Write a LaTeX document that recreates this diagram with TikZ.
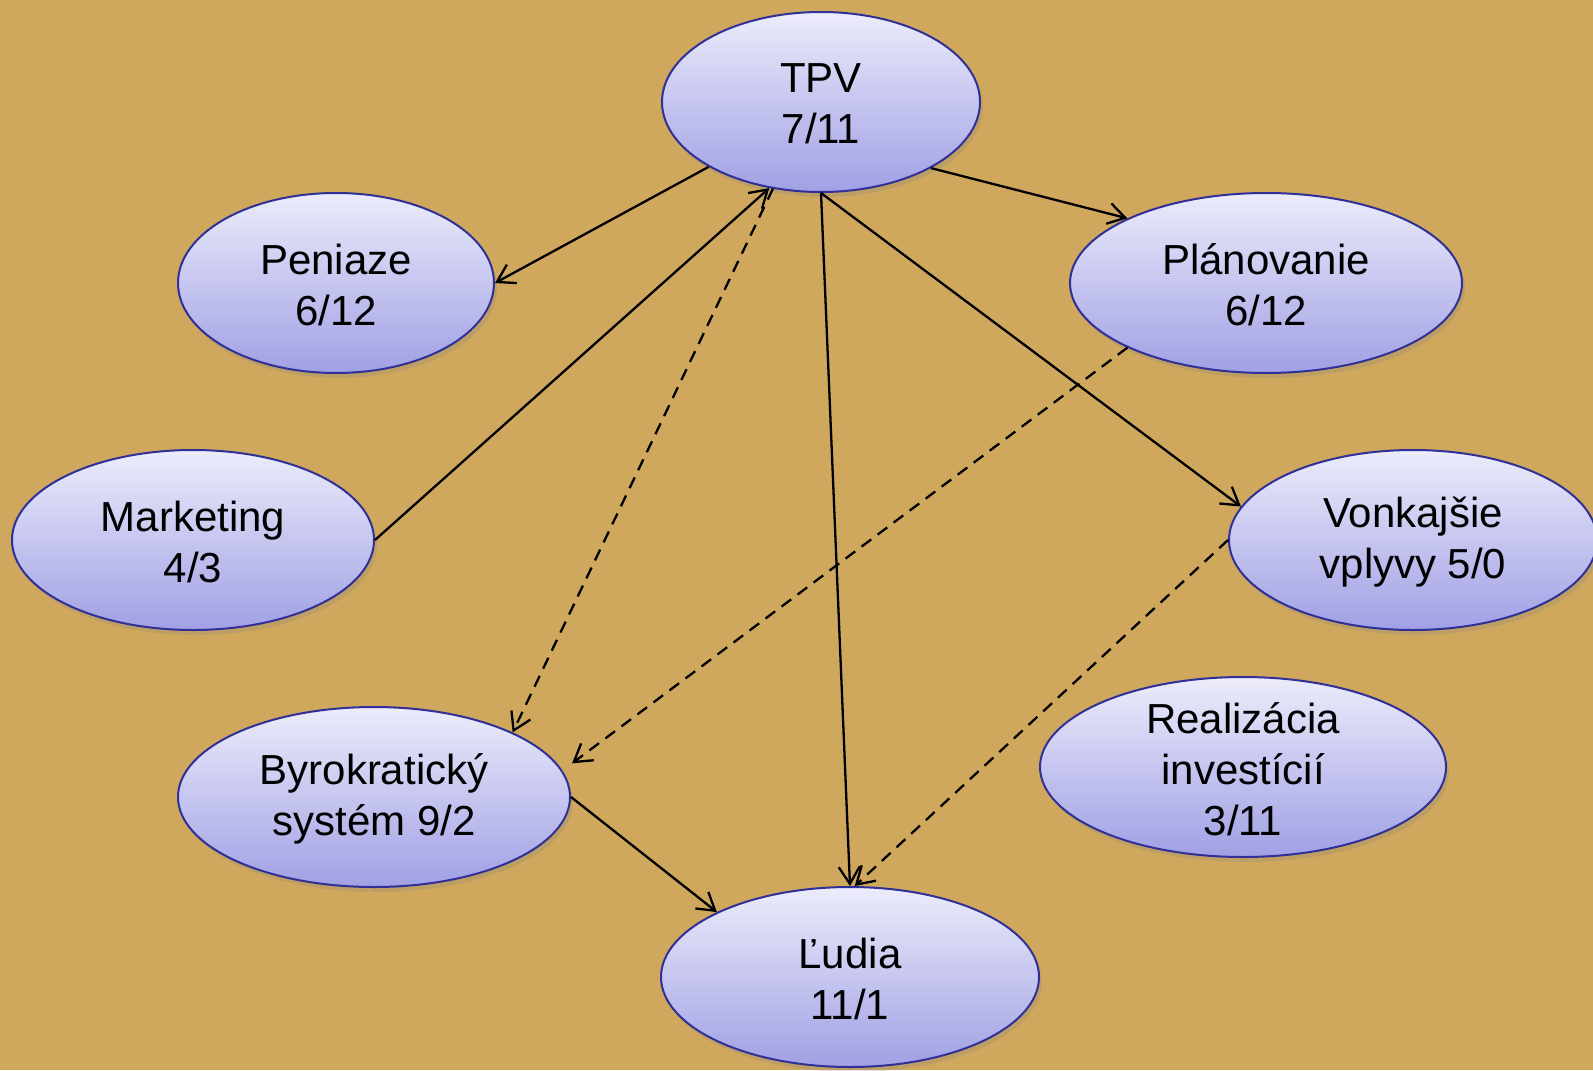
\documentclass[tikz,border=0pt]{standalone}
\usepackage{fontspec}
\setmainfont{Liberation Sans}
\usetikzlibrary{shapes.geometric,arrows.meta,shadows}

\definecolor{canvas}{RGB}{207,168,94}
\definecolor{bubbletop}{RGB}{236,236,251}
\definecolor{bubblebottom}{RGB}{160,160,229}
\definecolor{bubbleline}{RGB}{48,48,150}

\tikzset{
  bubble/.style={ellipse, draw=bubbleline, line width=1pt, inner sep=0pt,
    top color=bubbletop, bottom color=bubblebottom,
    drop shadow={shadow xshift=1.5pt, shadow yshift=-2.5pt, opacity=0.22}},
  caption/.style={align=center, text=black, inner sep=0pt,
    font=\fontsize{21}{25.5}\selectfont},
  link/.style={draw=black, line width=1.15pt, -{Straight Barb[length=8.5pt,width=10.5pt]}},
  weak/.style={link, dash pattern=on 6pt off 4pt}
}

\begin{document}
\begin{tikzpicture}[x=0.5pt, y=-0.5pt]
  % canvas
  \fill[canvas] (0,0) rectangle (1593,1070);
  \useasboundingbox (0,0) rectangle (1593,1070);

  % ellipses (one unit is half a point)
  \node[bubble, minimum width=159pt, minimum height=90pt] (tpv)  at (821,102) {};
  \node[bubble, minimum width=158pt, minimum height=90pt] (pen)  at (336,283) {};
  \node[bubble, minimum width=196pt, minimum height=90pt] (plan) at (1266,283) {};
  \node[bubble, minimum width=181pt, minimum height=90pt] (mkt)  at (193,540) {};
  \node[bubble, minimum width=184pt, minimum height=90pt] (von)  at (1413,540) {};
  \node[bubble, minimum width=196pt, minimum height=90pt] (byr)  at (374,797) {};
  \node[bubble, minimum width=203pt, minimum height=90pt] (real) at (1243,767) {};
  \node[bubble, minimum width=189pt, minimum height=90pt] (lud)  at (850,977) {};

  % captions, set a touch below the centre
  \node[caption] (tpv-t)  at ([yshift=-1pt]tpv.center)  {TPV\\7/11};
  \node[caption] (pen-t)  at ([yshift=-1pt]pen.center)  {Peniaze\\6/12};
  \node[caption] (plan-t) at ([yshift=-1pt]plan.center) {Plánovanie\\6/12};
  \node[caption] (mkt-t)  at ([yshift=-1pt]mkt.center)  {Marketing\\4/3};
  \node[caption] (von-t)  at ([yshift=-1pt]von.center)  {Vonkajšie\\vplyvy 5/0};
  \node[caption] (byr-t)  at ([yshift=-1pt]byr.center)  {Byrokratický\\systém 9/2};
  \node[caption] (real-t) at ([yshift=-1pt]real.center) {Realizácia\\investícií\\3/11};
  \node[caption] (lud-t)  at ([yshift=-1pt]lud.center)  {Ľudia\\11/1};

  % solid relations
  \draw[link] (tpv.210) -- (pen.0);
  \draw[link] (mkt.0) -- (tpv.239);
  \draw[link] (tpv.329.5) -- (plan.155);
  \draw[link] (tpv.270) -- (lud.90);
  \draw[link] (tpv.270) -- (von.169.4);
  \draw[link] (byr.0) -- (lud.154);

  % dashed relations
  \draw[weak] (tpv.241) -- (byr.25.9);
  \draw[weak, shorten >=6pt] (plan.205) -- (byr.8);
  \draw[weak] (von.180) -- (lud.87.5);
\end{tikzpicture}
\end{document}
